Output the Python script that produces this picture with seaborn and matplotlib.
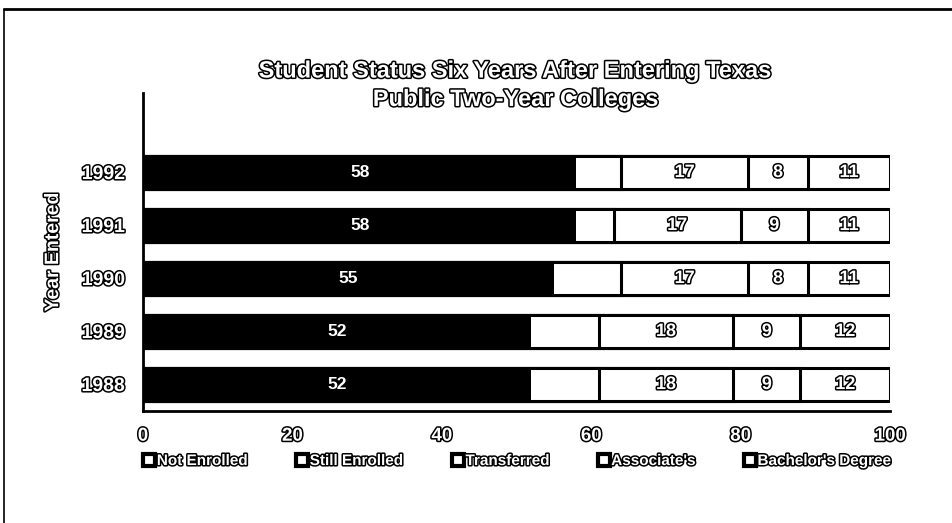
import matplotlib
matplotlib.use("Agg")
import matplotlib.pyplot as plt
import matplotlib.patheffects as pe
from matplotlib.lines import Line2D
import numpy as np
import pandas as pd
import seaborn as sns

# Data
years = ["1992", "1991", "1990", "1989", "1988"]
not_enrolled = [58, 58, 55, 52, 52]
still_enrolled = [6, 5, 9, 9, 9]
transferred = [17, 17, 17, 18, 18]
associates = [8, 9, 8, 9, 9]
bachelors = [11, 11, 11, 12, 12]
series_names = ["Not Enrolled", "Still Enrolled", "Transferred", "Associate's", "Bachelor's Degree"]
x_ticks = [0, 20, 40, 60, 80, 100]

sns.set_theme(style="white")
plt.rcParams["font.family"] = ["Liberation Sans", "DejaVu Sans"]

outline = [pe.withStroke(linewidth=2.2, foreground="black")]
OUT = dict(color="white", fontweight="bold", path_effects=outline)

df = pd.DataFrame({
    "year": years,
    "Not Enrolled": not_enrolled,
    "Still Enrolled": still_enrolled,
    "Transferred": transferred,
    "Associate's": associates,
    "Bachelor's Degree": bachelors,
})
cum = df[series_names].cumsum(axis=1)

fig = plt.figure(figsize=(9.53, 5.23), dpi=100)
ax = fig.add_axes([0.150, 0.2141, 0.784, 0.608])

bar_h = 0.64
# draw cumulative layers from the right end inward so each covers the next
for name in reversed(series_names):
    is_black = name == "Not Enrolled"
    sns.barplot(data=cum.assign(year=years), x=name, y="year", order=years,
                orient="h", ax=ax, width=bar_h,
                color="black" if is_black else "white",
                edgecolor="black", linewidth=0 if is_black else 2.2,
                saturation=1)

# segment labels
for i, yr in enumerate(years):
    left = 0
    for name in series_names:
        v = df.loc[i, name]
        mid = left + v / 2
        if name == "Not Enrolled":
            ax.text(mid, i, str(v), ha="center", va="center", color="white",
                    fontsize=12.5, fontweight="bold")
        elif name != "Still Enrolled":
            ax.text(mid, i, str(v), ha="center", va="center", fontsize=13, **OUT)
        left += v

ax.set_xlim(0, 100)
ax.set_ylim(4.5, -1.5)
ax.set_xticks(x_ticks)
ax.set_xticklabels([str(t) for t in x_ticks], fontsize=13.5, **OUT)
ax.set_yticks(range(len(years)))
ax.set_yticklabels(years, fontsize=14, **OUT)
ax.set_yticks(np.arange(-1.5, 5, 1.0), minor=True)
ax.tick_params(axis="y", which="major", length=0, pad=13)
ax.tick_params(axis="y", which="minor", length=4, width=2, color="black", direction="out")
ax.tick_params(axis="x", which="major", length=5, width=2, color="black", direction="out", pad=7)
ax.set_xlabel("")
ax.set_ylabel("Year Entered", fontsize=14, labelpad=14, **OUT)
for s in ["top", "right"]:
    ax.spines[s].set_visible(False)
for s in ["left", "bottom"]:
    ax.spines[s].set_color("black")
    ax.spines[s].set_linewidth(2)

fig.text(0.541, 0.837, "Student Status Six Years After Entering Texas\nPublic Two-Year Colleges",
         ha="center", va="center", fontsize=17, linespacing=1.3, **OUT)

handles = [Line2D([], [], marker="s", linestyle="none", markersize=8,
                  markerfacecolor="white", markeredgecolor="black", markeredgewidth=3)
           for _ in series_names]
leg = fig.legend(handles, series_names, loc="center", bbox_to_anchor=(0.543, 0.1185),
                 ncol=5, frameon=False, fontsize=11, handlelength=0.7,
                 handletextpad=0.15, columnspacing=3.2)
for t in leg.get_texts():
    t.set_color("white")
    t.set_fontweight("bold")
    t.set_path_effects(outline)

# page frame
fig.add_artist(Line2D([0.004, 0.004], [0, 0.983], transform=fig.transFigure, color="black", lw=1.2))
fig.add_artist(Line2D([0.004, 1.0], [0.983, 0.983], transform=fig.transFigure, color="black", lw=2))

fig.savefig("out.png", dpi=100, facecolor="white")
